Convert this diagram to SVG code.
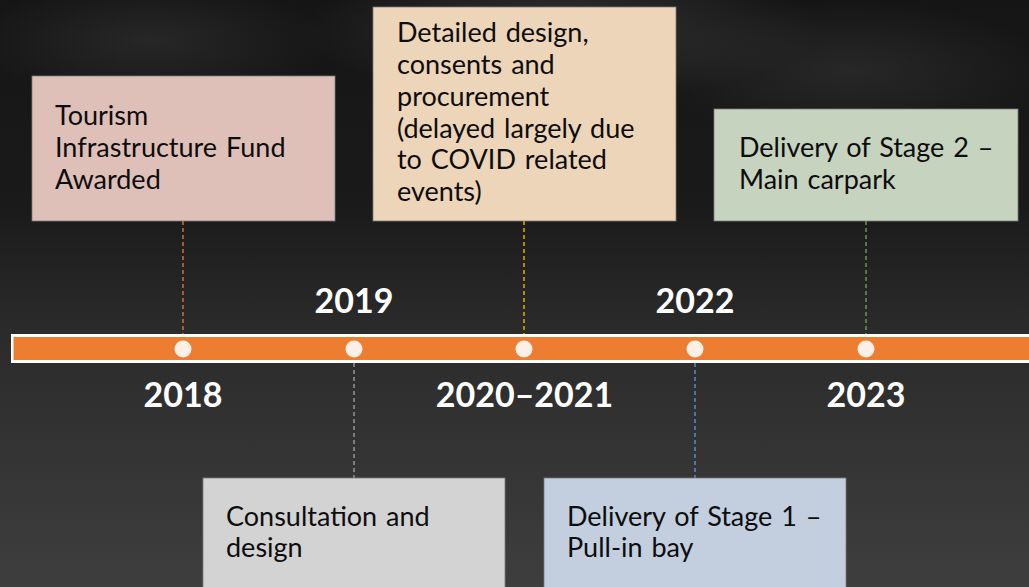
<svg xmlns="http://www.w3.org/2000/svg" width="1029" height="587" viewBox="0 0 1029 587">
<defs>
<linearGradient id="bg" x1="0" y1="0" x2="0" y2="1">
<stop offset="0" stop-color="#151515"/>
<stop offset="0.35" stop-color="#1a1a1a"/>
<stop offset="0.55" stop-color="#2a2a2a"/>
<stop offset="1" stop-color="#3e3e3e"/>
</linearGradient>
<radialGradient id="haze" cx="0.5" cy="0.5" r="0.5">
<stop offset="0" stop-color="#555" stop-opacity="0.45"/>
<stop offset="1" stop-color="#555" stop-opacity="0"/>
</radialGradient>
<style>
.box{stroke:#7a7a7a;stroke-width:0.8}
.t{font-family:Lato,"Open Sans","Liberation Sans",sans-serif;font-size:27px;word-spacing:2px;fill:#0d0d0d}
.yr{font-family:Lato,"Open Sans","Liberation Sans",sans-serif;font-size:34px;font-weight:700;fill:#fff;text-anchor:middle}
.c{stroke-width:1.3;stroke-dasharray:4 3;fill:none}
.dot{fill:#fbefe6}
</style>
</defs>
<rect width="1029" height="587" fill="url(#bg)"/>
<ellipse cx="560" cy="30" rx="260" ry="70" fill="url(#haze)"/>
<ellipse cx="150" cy="40" rx="180" ry="60" fill="url(#haze)" opacity="0.6"/>
<ellipse cx="850" cy="70" rx="200" ry="70" fill="url(#haze)" opacity="0.6"/>

<g id="connectors">
<line class="c" x1="183" y1="221" x2="183" y2="334" stroke="#ED7D31"/>
<line class="c" x1="524" y1="221" x2="524" y2="334" stroke="#FFC000"/>
<line class="c" x1="866" y1="221" x2="866" y2="334" stroke="#70AD47"/>
<line class="c" x1="354" y1="363" x2="354" y2="478" stroke="#A5A5A5"/>
<line class="c" x1="695" y1="363" x2="695" y2="478" stroke="#5B9BD5"/>
</g>

<g id="timeline">
<rect x="11" y="334" width="1030" height="29" fill="#ffffff"/>
<rect x="13.5" y="337" width="1030" height="23" fill="#ED7D31"/>
<circle class="dot" cx="183" cy="349" r="8.5"/>
<circle class="dot" cx="354" cy="349" r="8.5"/>
<circle class="dot" cx="524" cy="349" r="8.5"/>
<circle class="dot" cx="695" cy="349" r="8.5"/>
<circle class="dot" cx="866" cy="349" r="8.5"/>
</g>

<g id="years">
<text class="yr" x="183" y="407">2018</text>
<text class="yr" x="354" y="313">2019</text>
<text class="yr" x="524.5" y="407">2020–2021</text>
<text class="yr" x="695" y="313">2022</text>
<text class="yr" x="866" y="407">2023</text>
</g>

<g id="node-2018">
<rect class="box" x="32" y="76" width="303" height="145" fill="#DFC0B8"/>
<text class="t" x="55" y="125">Tourism</text>
<text class="t" x="55" y="157">Infrastructure Fund</text>
<text class="t" x="55" y="189">Awarded</text>
</g>

<g id="node-2020">
<rect class="box" x="373" y="7" width="303" height="214" fill="#EDD5B9"/>
<text class="t" x="397" y="42">Detailed design,</text>
<text class="t" x="397" y="74">consents and</text>
<text class="t" x="397" y="106">procurement</text>
<text class="t" x="397" y="138">(delayed largely due</text>
<text class="t" x="397" y="169">to COVID related</text>
<text class="t" x="397" y="201">events)</text>
</g>

<g id="node-2023">
<rect class="box" x="714" y="109" width="304" height="112" fill="#C6D3BF"/>
<text class="t" x="739" y="157">Delivery of Stage 2 –</text>
<text class="t" x="739" y="189">Main carpark</text>
</g>

<g id="node-2019">
<rect class="box" x="203" y="478" width="302" height="115" fill="#D3D3D3"/>
<text class="t" x="226" y="526">Consultation and</text>
<text class="t" x="226" y="557">design</text>
</g>

<g id="node-2022">
<rect class="box" x="544" y="478" width="302" height="115" fill="#C3CFDF"/>
<text class="t" x="567" y="526">Delivery of Stage 1 –</text>
<text class="t" x="567" y="557">Pull-in bay</text>
</g>
</svg>
